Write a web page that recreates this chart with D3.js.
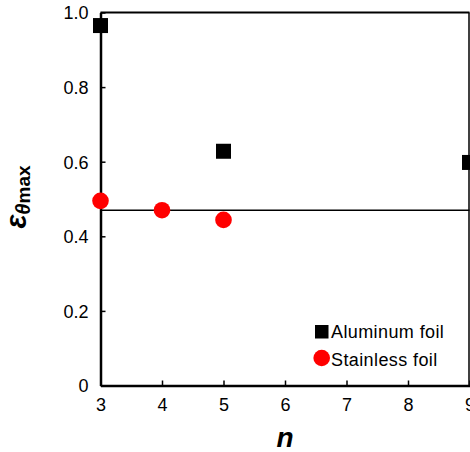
<!DOCTYPE html>
<html>
<head>
<meta charset="utf-8">
<script src="https://cdn.jsdelivr.net/npm/d3@7"></script>
<style>
  body { margin: 0; background: #fff; overflow: hidden; }
  text { font-family: "Liberation Sans", Arial, sans-serif; fill: #000; }
</style>
</head>
<body>
<svg id="chart" width="470" height="452"></svg>
<script>
// chart values
const nValues = [3, 4, 5, 6, 7, 8, 9];
const yTicks = [0, 0.2, 0.4, 0.6, 0.8, 1.0];
const aluminumN = [3, 5, 9];
const aluminumEps = [0.965, 0.628, 0.598];
const stainlessN = [3, 4, 5];
const stainlessEps = [0.495, 0.47, 0.444];
const refLine = 0.47;
const seriesNames = ["Aluminum foil", "Stainless foil"];

const svg = d3.select("#chart");

const LEFT = 100.5, RIGHT = 469.5, TOP = 12.5, BOTTOM = 385.5;

const x = d3.scaleLinear().domain([3, 9]).range([LEFT, RIGHT]);
const y = d3.scaleLinear().domain([0, 1]).range([BOTTOM, TOP]);

// reference line
svg.append("line")
  .attr("x1", x(3)).attr("x2", x(9))
  .attr("y1", y(refLine)).attr("y2", y(refLine))
  .attr("stroke", "#000").attr("stroke-width", 1.5);

// frame: top and right
svg.append("line")
  .attr("x1", LEFT).attr("x2", RIGHT).attr("y1", TOP).attr("y2", TOP)
  .attr("stroke", "#000").attr("stroke-width", 2);
svg.append("line")
  .attr("x1", RIGHT - 0.5).attr("x2", RIGHT - 0.5).attr("y1", TOP).attr("y2", BOTTOM)
  .attr("stroke", "#000").attr("stroke-width", 1.5);

// axes with inward ticks
const xAxis = d3.axisBottom(x).tickValues(nValues).tickSizeInner(-5).tickSizeOuter(0).tickPadding(14)
  .tickFormat(d3.format("d"));
const yAxis = d3.axisLeft(y).tickValues(yTicks).tickSizeInner(-5).tickSizeOuter(0).tickPadding(12)
  .tickFormat(d => d === 0 ? "0" : d3.format(".1f")(d));

const gx = svg.append("g").attr("transform", `translate(0,${BOTTOM})`).call(xAxis);
const gy = svg.append("g").attr("transform", `translate(${LEFT},0)`).call(yAxis);

[gx, gy].forEach(g => {
  g.select(".domain").attr("stroke", "#000").attr("stroke-width", 2.5);
  g.selectAll(".tick line").attr("stroke", "#000").attr("stroke-width", 1.5);
  g.selectAll(".tick text").attr("font-size", 18)
    .style("font-family", "'Liberation Sans', Arial, sans-serif").attr("fill", "#222");
});
gy.selectAll(".tick text").attr("dy", "0.36em");
gx.selectAll(".tick text").attr("dy", "0.66em");

// markers
const sq = 15;
svg.append("g").selectAll("rect")
  .data(aluminumN.map((n, i) => [n, aluminumEps[i]]))
  .join("rect")
  .attr("x", d => x(d[0]) - sq / 2).attr("y", d => y(d[1]) - sq / 2)
  .attr("width", sq).attr("height", sq).attr("fill", "#000");

svg.append("g").selectAll("circle")
  .data(stainlessN.map((n, i) => [n, stainlessEps[i]]))
  .join("circle")
  .attr("cx", d => x(d[0])).attr("cy", d => y(d[1]))
  .attr("r", 8.3).attr("fill", "#ff0000");

// legend
const legend = svg.append("g");
legend.append("rect").attr("x", 315).attr("y", 325).attr("width", 13.5).attr("height", 13.5).attr("fill", "#000");
legend.append("circle").attr("cx", 321.7).attr("cy", 358).attr("r", 8.3).attr("fill", "#ff0000");
legend.selectAll("text.leg").data(seriesNames).join("text")
  .attr("class", "leg")
  .attr("x", 331).attr("y", (d, i) => 337.5 + i * 28)
  .attr("font-size", 18).attr("letter-spacing", "0.4px").attr("fill", "#222")
  .text(d => d);

// axis titles
svg.append("text")
  .attr("x", 285).attr("y", 447).attr("text-anchor", "middle")
  .attr("font-size", 28).attr("font-weight", "bold").attr("font-style", "italic")
  .text("n");

const yt = svg.append("text")
  .attr("transform", "translate(26,197) rotate(-90)")
  .attr("text-anchor", "middle")
  .attr("font-weight", "bold");
yt.append("tspan").attr("font-size", 29).attr("font-style", "italic").text("ε");
yt.append("tspan").attr("font-size", 20).attr("font-style", "italic").attr("dy", 4).text("θ");
yt.append("tspan").attr("font-size", 19).text("max");
</script>
</body>
</html>
